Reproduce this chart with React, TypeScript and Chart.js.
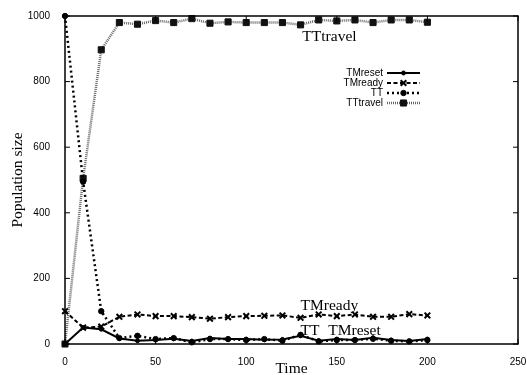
import React, { useEffect, useRef } from "react";
import { Chart, registerables } from "chart.js";

Chart.register(...registerables);

const times = [0, 10, 20, 30, 40, 50, 60, 70, 80, 90, 100, 110, 120, 130, 140, 150, 160, 170, 180, 190, 200];
const tmReset = [0, 50, 45, 17, 10, 12, 16, 9, 18, 15, 15, 13, 14, 25, 10, 15, 12, 19, 12, 9, 15];
const tmReady = [100, 50, 53, 83, 90, 85, 85, 82, 77, 82, 85, 86, 87, 80, 90, 85, 90, 83, 83, 91, 87];
const tt = [1000, 495, 100, 18, 25, 15, 18, 5, 15, 15, 12, 15, 10, 28, 8, 12, 12, 16, 10, 8, 12];
const ttTravel = [0, 505, 897, 980, 975, 986, 980, 992, 978, 982, 980, 980, 980, 973, 988, 985, 988, 980, 988, 988, 981];

const seriesNames = ["TMreset", "TMready", "TT", "TTtravel"];
const xTicks = [0, 50, 100, 150, 200, 250];
const yTicks = [0, 200, 400, 600, 800, 1000];

const annotations = [
  { text: "TTtravel", x: 131, y: 924 },
  { text: "TMready", x: 130, y: 104 },
  { text: "TT", x: 130, y: 27 },
  { text: "TMreset", x: 145.3, y: 27 },
];

const toPoints = (vals: number[]) => vals.map((v, i) => ({ x: times[i], y: v }));

function drawMarker(ctx: CanvasRenderingContext2D, style: string, r: number, x: number, y: number) {
  ctx.beginPath();
  if (style === "circle") {
    ctx.arc(x, y, r, 0, Math.PI * 2);
    ctx.fill();
    ctx.stroke();
  } else if (style === "rect") {
    const s = r * Math.SQRT1_2;
    ctx.rect(x - s, y - s, 2 * s, 2 * s);
    ctx.fill();
    ctx.stroke();
  } else if (style === "crossRot") {
    const d = r * Math.SQRT1_2;
    ctx.moveTo(x - d, y - d);
    ctx.lineTo(x + d, y + d);
    ctx.moveTo(x - d, y + d);
    ctx.lineTo(x + d, y - d);
    ctx.stroke();
  }
}

const framePlugin = {
  id: "frame",
  afterDatasetsDraw(chart: any) {
    const { ctx, chartArea: a, scales } = chart;
    const xs = scales.x;
    const ys = scales.y;
    ctx.save();
    ctx.strokeStyle = "#000";
    ctx.lineWidth = 1.5;
    ctx.strokeRect(a.left, a.top, a.right - a.left, a.bottom - a.top);
    ctx.lineWidth = 1;
    const tl = 5;
    ctx.beginPath();
    yTicks.forEach((v) => {
      const py = ys.getPixelForValue(v);
      ctx.moveTo(a.left, py);
      ctx.lineTo(a.left + tl, py);
      ctx.moveTo(a.right, py);
      ctx.lineTo(a.right - tl, py);
    });
    xTicks.forEach((v) => {
      const px = xs.getPixelForValue(v);
      ctx.moveTo(px, a.bottom);
      ctx.lineTo(px, a.bottom - tl);
      ctx.moveTo(px, a.top);
      ctx.lineTo(px, a.top + tl);
    });
    ctx.stroke();

    // annotations
    ctx.fillStyle = "#000";
    ctx.font = '15.5px "Liberation Serif"';
    ctx.textAlign = "left";
    ctx.textBaseline = "alphabetic";
    annotations.forEach((an) => {
      ctx.fillText(an.text, xs.getPixelForValue(an.x), ys.getPixelForValue(an.y));
    });

    // legend
    ctx.font = '10px "Liberation Sans"';
    ctx.textAlign = "right";
    ctx.textBaseline = "middle";
    const textRight = a.right - 135;
    const x0 = a.right - 131;
    const x1 = a.right - 98;
    chart.data.datasets.forEach((ds: any, i: number) => {
      const y = a.top + 57 + i * 10;
      ctx.fillStyle = "#000";
      ctx.fillText(ds.label, textRight, y);
      ctx.save();
      ctx.strokeStyle = ds.borderColor;
      ctx.lineWidth = ds.borderWidth;
      ctx.setLineDash(ds.borderDash || []);
      ctx.beginPath();
      ctx.moveTo(x0, y);
      ctx.lineTo(x1, y);
      ctx.stroke();
      ctx.restore();
      ctx.save();
      ctx.setLineDash([]);
      ctx.fillStyle = ds.pointBackgroundColor;
      ctx.strokeStyle = ds.pointBorderColor;
      ctx.lineWidth = ds.pointBorderWidth;
      drawMarker(ctx, ds.pointStyle, ds.pointRadius, (x0 + x1) / 2, y);
      ctx.restore();
    });
    ctx.restore();
  },
};

export default function App() {
  const ref = useRef<HTMLCanvasElement | null>(null);
  useEffect(() => {
    if (!ref.current) return;
    const common = { clip: false as any, tension: 0 };
    const chart = new Chart(ref.current, {
      type: "line",
      data: {
        datasets: [
          {
            ...common,
            label: seriesNames[0],
            data: toPoints(tmReset),
            borderColor: "#000",
            borderWidth: 2,
            borderDash: [],
            pointStyle: "circle",
            pointRadius: 2,
            pointBackgroundColor: "#000",
            pointBorderColor: "#000",
            pointBorderWidth: 1,
          },
          {
            ...common,
            label: seriesNames[1],
            data: toPoints(tmReady),
            borderColor: "#000",
            borderWidth: 2,
            borderDash: [4, 2.5],
            pointStyle: "crossRot",
            pointRadius: 4,
            pointBackgroundColor: "#000",
            pointBorderColor: "#000",
            pointBorderWidth: 2,
          },
          {
            ...common,
            label: seriesNames[2],
            data: toPoints(tt),
            borderColor: "#000",
            borderWidth: 2.5,
            borderDash: [2, 3],
            pointStyle: "circle",
            pointRadius: 2.7,
            pointBackgroundColor: "#000",
            pointBorderColor: "#000",
            pointBorderWidth: 1,
          },
          {
            ...common,
            label: seriesNames[3],
            data: toPoints(ttTravel),
            borderColor: "#666",
            borderWidth: 2.5,
            borderDash: [1, 1],
            pointStyle: "rect",
            pointRadius: 4.3,
            pointBackgroundColor: "#111",
            pointBorderColor: "#111",
            pointBorderWidth: 1,
          },
        ],
      },
      options: {
        animation: false,
        responsive: false,
        maintainAspectRatio: false,
        layout: { padding: { top: 16, right: 9, left: 0, bottom: 0 } },
        plugins: { legend: { display: false }, tooltip: { enabled: false } },
        scales: {
          x: {
            type: "linear",
            min: 0,
            max: 250,
            afterFit: (s: any) => {
              s.height = 31;
              s.paddingLeft = 0;
              s.paddingRight = 0;
            },
            afterBuildTicks: (s: any) => {
              s.ticks = xTicks.map((v) => ({ value: v }));
            },
            ticks: {
              font: { family: "Liberation Sans", size: 10 },
              color: "#000",
              padding: 4,
              maxRotation: 0,
              callback: (v: any) => String(v),
            },
            grid: { display: false },
            border: { display: false },
            title: {
              display: true,
              text: "Time",
              font: { family: "Liberation Serif", size: 15.5, lineHeight: 0.8 },
              color: "#000",
              padding: { top: 0, bottom: 0 },
            },
          },
          y: {
            type: "linear",
            min: 0,
            max: 1000,
            afterFit: (s: any) => {
              s.width = 65;
              s.paddingTop = 0;
              s.paddingBottom = 0;
            },
            afterBuildTicks: (s: any) => {
              s.ticks = yTicks.map((v) => ({ value: v }));
            },
            ticks: {
              font: { family: "Liberation Sans", size: 10 },
              color: "#000",
              padding: 7,
              callback: (v: any) => String(v),
            },
            grid: { display: false },
            border: { display: false },
            title: {
              display: true,
              text: "Population size",
              font: { family: "Liberation Serif", size: 15.5, lineHeight: 1 },
              color: "#000",
              padding: { top: 10, bottom: 0 },
            },
          },
        },
      },
      plugins: [framePlugin],
    });
    return () => chart.destroy();
  }, []);
  return (
    <div style={{ position: "fixed", left: 0, top: 0, width: 527, height: 375, background: "#fff" }}>
      <canvas ref={ref} width={527} height={375} style={{ width: 527, height: 375 }} />
    </div>
  );
}
